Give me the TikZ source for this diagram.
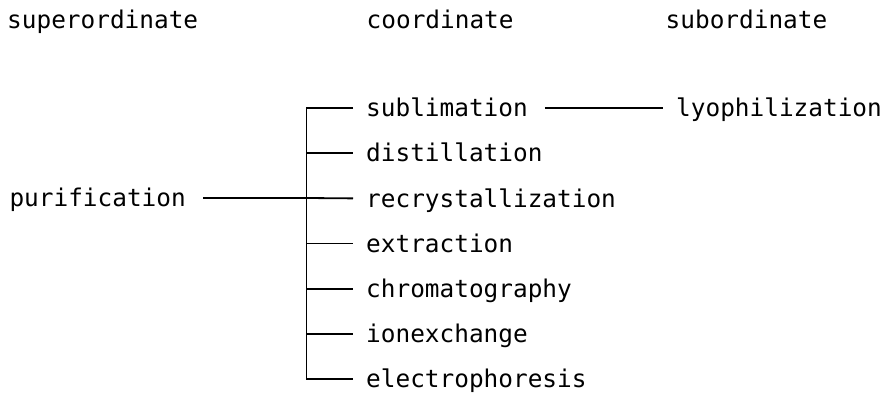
\documentclass[tikz,border=0pt]{standalone}
\usepackage{fontspec}
\setmonofont{DejaVu Sans Mono}
\usepackage{tikz}
\usetikzlibrary{positioning}
\tikzset{
  headnode/.style={font=\ttfamily\fontsize{24.4}{28}\selectfont,inner sep=0pt,anchor=west,text height=17.5pt,text depth=0pt},
  termnode/.style={font=\ttfamily\fontsize{24.4}{28}\selectfont,inner ysep=0pt,inner xsep=13pt,text height=17.5pt,text depth=0pt},
  termline/.style={line width=1.8pt,black}
}

\begin{document}
\begin{tikzpicture}[x=1pt,y=1pt,node distance=45.2pt]
\useasboundingbox (0,0) rectangle (886,-395);
\node[headnode] (sup) at (7,-20) {superordinate};
\node[headnode] (coo) at (366.5,-20) {coordinate};
\node[headnode] (subo) at (665.5,-20) {subordinate};
\node[termnode,anchor=east] (pur) at (199,-198) {purification};
\coordinate (bar) at (306.5,-198);
\node[termnode,anchor=west] (subl) at (353,-108) {sublimation};
\node[termnode,below=of subl.west,anchor=west] (dist) {distillation};
\node[termnode,below=of dist.west,anchor=west] (recr) {recrystallization};
\node[termnode,below=of recr.west,anchor=west] (extr) {extraction};
\node[termnode,below=of extr.west,anchor=west] (chro) {chromatography};
\node[termnode,below=of chro.west,anchor=west] (ione) {ionexchange};
\node[termnode,below=of ione.west,anchor=west] (elec) {electrophoresis};
\node[termnode,anchor=west] (lyo) at (663,-108) {lyophilization};
\draw[termline,shorten <=4pt] (pur.east)--(bar);
\draw[termline] (subl.west)-|(bar)|-(elec.west);
\draw[termline] (bar|-dist.west)--(dist.west);
\draw[termline] (bar)--(recr.west);
\draw[termline] (bar|-extr.west)--(extr.west);
\draw[termline] (bar|-chro.west)--(chro.west);
\draw[termline] (bar|-ione.west)--(ione.west);
\draw[termline,shorten <=4pt] (subl.east)--(lyo.west);
\end{tikzpicture}
\end{document}
